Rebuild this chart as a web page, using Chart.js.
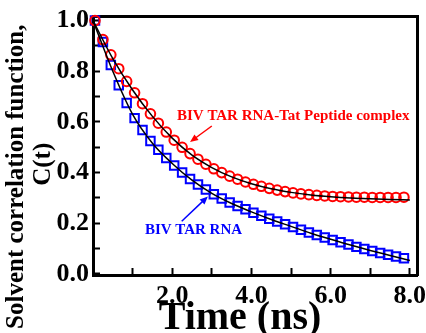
<!DOCTYPE html>
<html>
<head>
<meta charset="utf-8">
<script src="https://cdn.jsdelivr.net/npm/chart.js@4/dist/chart.umd.min.js"></script>
<style>
    body { margin: 0; background: #fff; }
    canvas { display: block; }
</style>
</head>
<body>
<canvas id="corrChart" width="426" height="333"></canvas>
<script>
// sampled times (ns) of the markers
const times = [0.05, 0.25, 0.45, 0.65, 0.85, 1.05, 1.25, 1.45, 1.65, 1.85,
    2.05, 2.25, 2.45, 2.65, 2.85, 3.05, 3.25, 3.45, 3.65, 3.85,
    4.05, 4.25, 4.45, 4.65, 4.85, 5.05, 5.25, 5.45, 5.65, 5.85,
    6.05, 6.25, 6.45, 6.65, 6.85, 7.05, 7.25, 7.45, 7.65, 7.85];
// BIV TAR RNA-Tat Peptide complex (red circles)
const complexC = [1.00, 0.925, 0.865, 0.81, 0.76, 0.715, 0.672, 0.632, 0.595, 0.56,
    0.528, 0.50, 0.475, 0.453, 0.433, 0.415, 0.40, 0.386, 0.374, 0.363,
    0.354, 0.346, 0.338, 0.331, 0.325, 0.32, 0.316, 0.313, 0.31, 0.308,
    0.306, 0.305, 0.304, 0.303, 0.303, 0.302, 0.302, 0.302, 0.302, 0.303];
// BIV TAR RNA (blue squares)
const rnaC = [1.00, 0.915, 0.825, 0.745, 0.675, 0.615, 0.568, 0.525, 0.49, 0.458,
    0.428, 0.40, 0.375, 0.353, 0.333, 0.315, 0.298, 0.282, 0.268, 0.255,
    0.242, 0.23, 0.218, 0.207, 0.196, 0.185, 0.175, 0.164, 0.154, 0.144,
    0.134, 0.125, 0.116, 0.107, 0.099, 0.091, 0.083, 0.076, 0.069, 0.062];
// fitted curves (black lines)
const fitTimes = [0, 0.5, 1.0, 1.5, 2.0, 2.5, 3.0, 3.5, 4.0, 4.5, 5.0, 5.5, 6.0, 6.5, 7.0, 7.5, 8.0];
const complexFit = [1.0, 0.85, 0.726, 0.622, 0.536, 0.469, 0.42, 0.383, 0.356, 0.336, 0.322, 0.312, 0.305, 0.30, 0.297, 0.294, 0.292];
const rnaFit = [1.0, 0.80, 0.63, 0.516, 0.436, 0.37, 0.318, 0.278, 0.245, 0.215, 0.188, 0.161, 0.137, 0.114, 0.093, 0.073, 0.053];

const serif = '"Liberation Serif", "Times New Roman", serif';

function pts(xs, ys) {
    return xs.map(function (x, i) { return { x: x, y: ys[i] }; });
}

// text labels with arrows, placed in data coordinates
const notes = [
    { text: 'BIV TAR RNA-Tat Peptide complex', color: '#ff0000', tx: 2.12, ty: 0.622,
      from: [3.0, 0.584], to: [2.45, 0.521] },
    { text: 'BIV TAR RNA', color: '#0000ff', tx: 1.31, ty: 0.173,
      from: [2.24, 0.208], to: [2.90, 0.306] }
];

const notesPlugin = {
    id: 'notes',
    afterDatasetsDraw: function (chart) {
        const ctx = chart.ctx;
        const xs = chart.scales.x, ys = chart.scales.y;
        ctx.save();
        notes.forEach(function (n) {
            ctx.fillStyle = n.color;
            ctx.strokeStyle = n.color;
            ctx.font = 'bold 15px ' + serif;
            ctx.textAlign = 'left';
            ctx.textBaseline = 'middle';
            ctx.fillText(n.text, xs.getPixelForValue(n.tx), ys.getPixelForValue(n.ty));
            const x1 = xs.getPixelForValue(n.from[0]), y1 = ys.getPixelForValue(n.from[1]);
            const x2 = xs.getPixelForValue(n.to[0]), y2 = ys.getPixelForValue(n.to[1]);
            const a = Math.atan2(y2 - y1, x2 - x1);
            ctx.lineWidth = 1.5;
            ctx.beginPath();
            ctx.moveTo(x1, y1);
            ctx.lineTo(x2 - 5 * Math.cos(a), y2 - 5 * Math.sin(a));
            ctx.stroke();
            ctx.beginPath();
            ctx.moveTo(x2, y2);
            ctx.lineTo(x2 - 8 * Math.cos(a) + 3.5 * Math.sin(a), y2 - 8 * Math.sin(a) - 3.5 * Math.cos(a));
            ctx.lineTo(x2 - 8 * Math.cos(a) - 3.5 * Math.sin(a), y2 - 8 * Math.sin(a) + 3.5 * Math.cos(a));
            ctx.closePath();
            ctx.fill();
        });
        ctx.restore();
    }
};

const tickFont = { family: serif, size: 26, weight: 'bold' };

new Chart(document.getElementById('corrChart').getContext('2d'), {
    type: 'scatter',
    data: {
        datasets: [{
            label: 'complex fit',
            data: pts(fitTimes, complexFit),
            showLine: true,
            borderColor: '#000',
            borderWidth: 1.5,
            pointRadius: 0,
            cubicInterpolationMode: 'monotone',
            order: 0
        }, {
            label: 'RNA fit',
            data: pts(fitTimes, rnaFit),
            showLine: true,
            borderColor: '#000',
            borderWidth: 1.5,
            pointRadius: 0,
            cubicInterpolationMode: 'monotone',
            order: 0
        }, {
            label: 'BIV TAR RNA-Tat Peptide complex',
            data: pts(times, complexC),
            pointStyle: 'circle',
            pointRadius: 4.8,
            pointBorderWidth: 2,
            pointBorderColor: '#ff0000',
            pointBackgroundColor: 'rgba(0,0,0,0)',
            clip: 6,
            order: 1
        }, {
            label: 'BIV TAR RNA',
            data: pts(times, rnaC),
            pointStyle: 'rect',
            pointRadius: 6,
            pointBorderWidth: 2,
            pointBorderColor: '#0000ff',
            pointBackgroundColor: 'rgba(0,0,0,0)',
            clip: 6,
            order: 2
        }]
    },
    options: {
        responsive: false,
        animation: false,
        layout: { padding: { top: 16, right: 9, left: 0, bottom: 0 } },
        plugins: { legend: { display: false }, tooltip: { enabled: false } },
        scales: {
            x: {
                type: 'linear',
                min: 0,
                max: 8.18,
                afterFit: function (s) { s.height = 58; s.paddingLeft = 0; s.paddingRight = 0; },
                border: { color: '#000', width: 3 },
                grid: { drawOnChartArea: false, drawTicks: true, tickLength: -7, tickWidth: 2, tickColor: '#000' },
                ticks: {
                    stepSize: 1,
                    includeBounds: false,
                    autoSkip: false,
                    maxRotation: 0,
                    padding: 13,
                    color: '#000',
                    font: tickFont,
                    callback: function (v) { return (v > 0 && v % 2 === 0) ? v.toFixed(1) : ''; }
                },
                title: {
                    display: true,
                    text: 'Time (ns)   ',
                    color: '#000',
                    padding: { top: 0, bottom: 0 },
                    font: { family: serif, size: 40, weight: 'bold', lineHeight: 0.72 }
                }
            },
            y: {
                type: 'linear',
                min: -0.004,
                max: 1.018,
                afterFit: function (s) { s.width = 93; s.paddingTop = 0; s.paddingBottom = 0; },
                border: { color: '#000', width: 3 },
                grid: { drawOnChartArea: false, drawTicks: true, tickLength: -7, tickWidth: 2, tickColor: '#000' },
                ticks: {
                    stepSize: 0.1,
                    includeBounds: false,
                    autoSkip: false,
                    padding: 11,
                    color: '#000',
                    font: tickFont,
                    callback: function (v) { return Math.round(v * 10) % 2 === 0 ? v.toFixed(1) : ''; }
                },
                title: {
                    display: true,
                    text: ['Solvent correlation function,          ', 'C(t)      '],
                    color: '#000',
                    padding: { top: 3, bottom: 0 },
                    font: { family: serif, size: 25, weight: 'bold', lineHeight: 1.08 }
                }
            },
            xTop: {
                type: 'linear',
                position: 'top',
                min: 0,
                max: 8.18,
                afterFit: function (s) { s.height = 0; s.paddingLeft = 0; s.paddingRight = 0; },
                border: { color: '#000', width: 3 },
                grid: { display: false },
                ticks: { display: false }
            },
            yRight: {
                type: 'linear',
                position: 'right',
                min: -0.004,
                max: 1.018,
                afterFit: function (s) { s.width = 0; s.paddingTop = 0; s.paddingBottom = 0; },
                border: { color: '#000', width: 3 },
                grid: { display: false },
                ticks: { display: false }
            }
        }
    },
    plugins: [notesPlugin]
});
</script>
</body>
</html>
